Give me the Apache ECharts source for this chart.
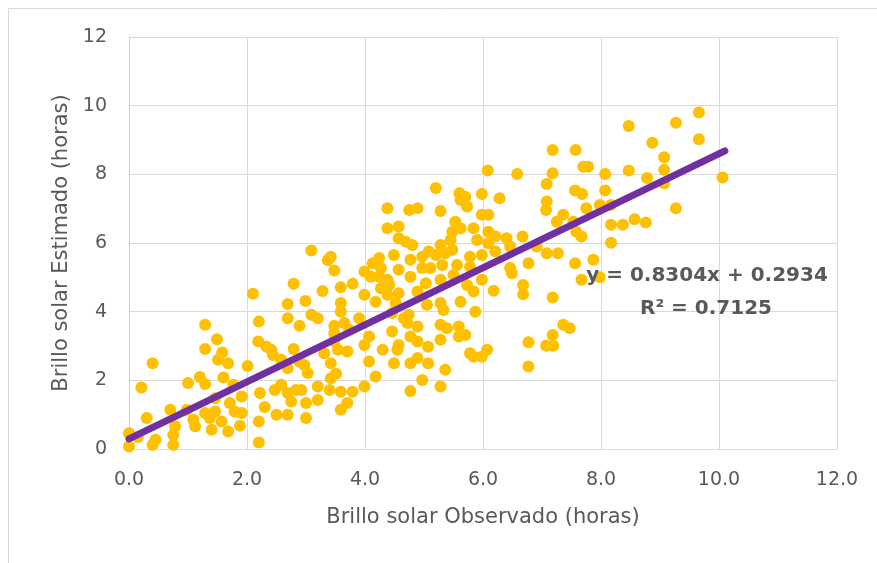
<!DOCTYPE html>
<html>
<head>
<meta charset="utf-8">
<title>Brillo solar observado vs estimado</title>
<script src="https://cdn.jsdelivr.net/npm/echarts@6/dist/echarts.min.js"></script>
<style>
  html, body { margin: 0; padding: 0; background: #ffffff; }
  #chart { width: 877px; height: 563px; }
</style>
</head>
<body>
<div id="chart"></div>
<script>
// Observed sunshine hours (x) and model-estimated sunshine hours (y), paired by index
const observado = [
  0.21,1.0,1.2,1.29,1.6,0,0,0.3,0.45,0.7,0.75,0.75,0.78,0.98,1.09,1.12,1.29,1.37,1.4,1.46,1.57,1.68,1.71,1.79,1.77,1.46,0.4,0.15,
  1.29,1.49,1.29,1.58,1.51,1.68,0.4,
  2.01,2.22,2.3,2.2,2.2,2.5,2.69,2.47,2.58,2.69,2.83,2.92,2.75,3.0,3.0,3.2,3.2,3.4,3.59,3.79,3.7,3.59,3.42,3.42,3.51,2.97,3.03,2.89,2.69,2.58,2.44,1.91,1.91,1.88,3.31,3.7,
  3.09,3.42,3.37,3.48,2.1,2.79,3.28,3.59,3.79,2.69,2.99,3.59,3.59,2.2,2.69,3.09,3.2,2.89,3.48,3.65,3.73,3.48,2.19,2.33,2.41,2.79,3.48,3.54,
  4.38,4.75,4.89,5.28,5.62,5.73,4.38,4.57,4.57,4.69,4.8,5.53,5.62,5.84,5.48,5.45,5.28,5.08,5.2,5.36,5.48,4.49,4.24,4.13,4.77,4.97,3.99,4.27,4.57,4.97,5.11,5.31,5.56,5.78,5.78,4.77,4.38,4.24,4.1,3.99,4.27,4.41,4.38,4.57,4.89,5.03,5.28,5.5,5.73,5.84,5.62,5.28,5.05,4.18,4.52,
  3.9,4.07,3.99,4.07,4.3,4.46,4.46,4.55,4.49,4.57,4.77,4.89,4.89,5.07,4.77,4.89,5.07,4.97,4.77,4.18,3.99,5.28,5.28,5.36,5.28,5.39,5.59,5.59,5.7,5.78,5.84,5.33,4.74,4.72,4.66,
  7.18,7.57,7.7,7.78,6.08,6.58,7.18,7.08,7.56,7.68,5.98,6.28,7.08,7.07,5.98,6.09,7.75,7.36,7.25,7.53,7.58,7.67,6.09,6.21,5.9,6.09,6.4,6.67,6.46,6.21,5.98,6.91,7.08,7.27,6.77,7.56,7.87,6.46,
  5.98,6.18,5.87,6.49,6.68,6.68,7.18,7.67,7.36,7.47,7.18,7.07,7.19,6.77,6.77,6.07,5.98,
  9.66,9.27,8.47,8.87,9.66,9.07,8.07,8.47,8.78,9.07,9.07,10.06,8.07,
  7.98,8.17,9.27,8.17,8.37,8.57,8.76,8.17,7.98,
  5.2,5.6,5.7
];
const estimado = [
  1.79,1.92,2.1,1.89,2.08,0.46,0.07,0.9,0.27,1.14,0.41,0.12,0.66,1.14,0.85,0.66,1.05,0.9,0.56,1.09,0.8,0.51,1.34,1.09,1.87,1.48,0.12,0.35,
  3.62,3.2,2.91,2.81,2.6,2.5,2.5,
  2.42,1.63,1.22,0.8,0.19,1.0,1.0,1.72,1.87,1.63,1.72,1.72,1.38,1.34,0.9,1.43,1.82,1.72,1.67,1.67,1.34,1.14,2.06,2.5,2.19,2.45,2.21,2.55,2.35,2.6,2.74,1.53,1.05,0.68,2.79,2.84,
  5.78,5.6,5.5,5.2,4.52,4.81,4.6,4.71,4.81,4.22,4.31,4.25,4.0,3.71,3.81,3.91,3.81,3.59,3.59,3.67,3.47,3.37,3.13,2.98,2.89,2.91,3.13,2.89,
  7.01,6.96,7.01,6.93,7.25,7.06,6.43,6.48,6.14,6.04,5.94,6.62,6.43,6.43,6.33,6.09,5.94,5.75,5.65,5.7,5.8,5.65,5.56,5.41,5.51,5.6,5.17,5.27,5.22,5.27,5.27,5.36,5.36,5.6,5.31,5.02,4.93,5.02,5.02,4.49,4.68,4.78,4.49,4.54,4.59,4.83,4.93,5.07,4.78,4.59,4.29,4.25,4.2,4.29,4.25,
  3.81,3.28,3.03,2.55,2.89,3.96,3.42,2.89,2.5,3.03,3.28,3.57,3.13,2.98,2.5,2.65,2.5,2.01,1.69,2.11,1.82,3.18,1.82,2.31,3.62,3.52,3.57,3.28,3.32,2.79,2.69,4.05,3.91,3.67,3.81,
  8.71,8.71,8.22,8.22,8.11,8.01,8.03,7.72,7.53,7.43,7.43,7.3,7.21,6.96,6.82,6.82,7.01,6.82,6.62,6.62,6.33,6.19,6.33,6.19,6.09,5.99,6.14,6.19,5.9,5.75,5.65,5.9,5.7,5.7,5.41,5.41,5.51,5.27,
  4.93,4.61,4.0,5.12,4.78,4.51,4.41,4.93,3.62,3.52,3.32,3.01,3.01,3.11,2.4,2.89,2.69,
  9.8,9.5,9.41,8.92,9.02,8.5,8.01,8.11,7.89,8.13,7.74,7.91,7.53,
  7.11,7.11,7.01,6.53,6.53,6.69,6.6,6.01,5.0,
  7.6,7.45,7.35
];

// Linear fit reported on the chart
const pendiente = 0.8304;
const intercepto = 0.2934;
const r2 = 0.7125;
const rangoAjuste = [0, 10.1];

// Axis ticks
const ticksX = [0, 2, 4, 6, 8, 10, 12];
const ticksY = [0, 2, 4, 6, 8, 10, 12];

const puntos = observado.map((x, i) => [x, estimado[i]]);
const lineaAjuste = rangoAjuste.map(x => [x, pendiente * x + intercepto]);

const FONT = '"DejaVu Sans", sans-serif';
const GRIS = '#595959';

const chart = echarts.init(document.getElementById('chart'));
chart.setOption({
  animation: false,
  backgroundColor: '#ffffff',
  grid: { left: 129, right: 40, top: 37, bottom: 114 },
  xAxis: {
    type: 'value',
    min: ticksX[0],
    max: ticksX[ticksX.length - 1],
    interval: ticksX[1] - ticksX[0],
    name: 'Brillo solar Observado (horas)',
    nameLocation: 'middle',
    nameGap: 58,
    nameTextStyle: { fontFamily: FONT, fontSize: 21, color: GRIS },
    axisLine: { show: true, onZero: false, lineStyle: { color: '#D9D9D9', width: 1 } },
    axisTick: { show: false },
    axisLabel: {
      fontFamily: FONT, fontSize: 19, color: GRIS, margin: 22,
      formatter: v => v.toFixed(1)
    },
    splitLine: { show: true, lineStyle: { color: '#D9D9D9', width: 1 } }
  },
  yAxis: {
    type: 'value',
    min: ticksY[0],
    max: ticksY[ticksY.length - 1],
    interval: ticksY[1] - ticksY[0],
    name: 'Brillo solar Estimado (horas)',
    nameLocation: 'middle',
    nameGap: 56,
    nameTextStyle: { fontFamily: FONT, fontSize: 21, color: GRIS },
    axisLine: { show: true, onZero: false, lineStyle: { color: '#CFCFCF', width: 1 } },
    axisTick: { show: false },
    axisLabel: { fontFamily: FONT, fontSize: 19, color: GRIS, margin: 22 },
    splitLine: { show: true, lineStyle: { color: '#D9D9D9', width: 1 } }
  },
  series: [
    {
      name: 'Brillo solar',
      type: 'scatter',
      data: puntos,
      symbol: 'circle',
      symbolSize: 12,
      itemStyle: { color: '#FFC000', opacity: 1 },
      z: 2
    },
    {
      name: 'Lineal',
      type: 'line',
      data: lineaAjuste,
      symbol: 'none',
      lineStyle: { color: '#7030A0', width: 7, cap: 'round' },
      z: 3
    }
  ],
  graphic: [
    {
      type: 'rect',
      z: -10,
      shape: { x: 8.5, y: 8.5, width: 1000, height: 1000 },
      style: { fill: 'none', stroke: '#D9D9D9', lineWidth: 1 }
    },
    {
      type: 'text',
      z: 100,
      x: 707, y: 276,
      style: {
        text: 'y = ' + pendiente.toFixed(4) + 'x + ' + intercepto.toFixed(4),
        font: 'bold 20px ' + FONT, fill: GRIS, align: 'center', verticalAlign: 'middle'
      }
    },
    {
      type: 'text',
      z: 100,
      x: 706, y: 309,
      style: {
        text: 'R\u00B2 = ' + r2.toFixed(4),
        font: 'bold 20px ' + FONT, fill: GRIS, align: 'center', verticalAlign: 'middle'
      }
    }
  ]
});
</script>
</body>
</html>
